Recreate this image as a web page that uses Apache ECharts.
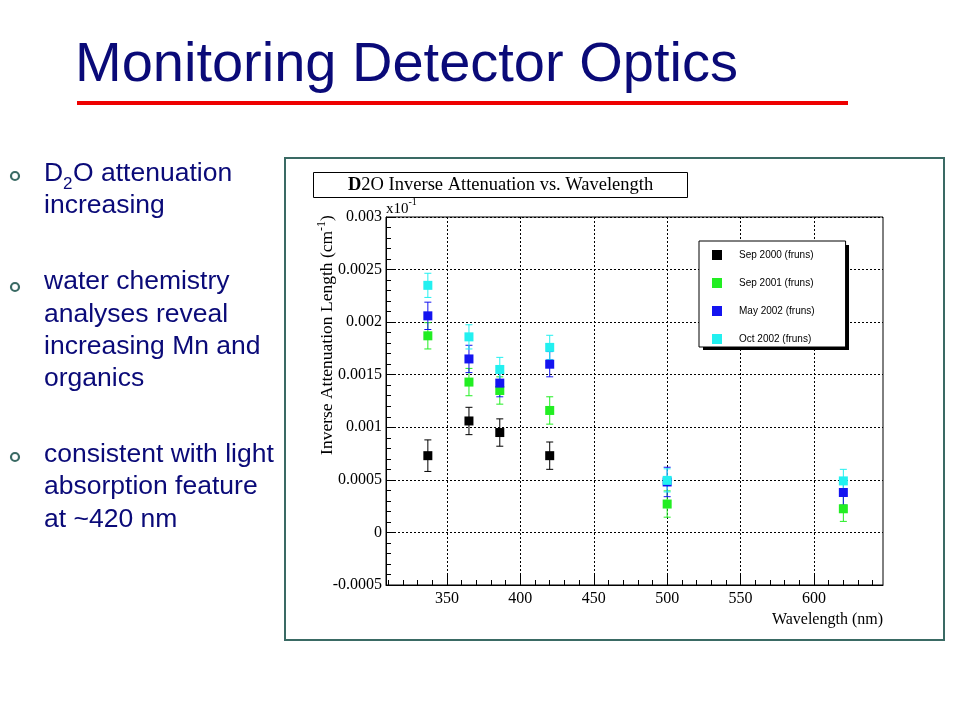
<!DOCTYPE html>
<html><head><meta charset="utf-8">
<script src="https://cdn.jsdelivr.net/npm/echarts@6/dist/echarts.min.js"></script>
<style>html,body{margin:0;padding:0;background:#fff}#c{width:960px;height:720px}</style>
</head><body><div id="c"></div>
<script>
// ---- data ----
const wavelengths = [337, 365, 386, 420, 500, 620];
const seriesNames = ['Sep 2000 (fruns)', 'Sep 2001 (fruns)', 'May 2002 (fruns)', 'Oct 2002 (fruns)'];
const sep2000 = [0.00073, 0.00106, 0.00095, 0.00073, null, null];
const sep2000Err = [0.00015, 0.00013, 0.00013, 0.00013, null, null];
const sep2001 = [0.00187, 0.00143, 0.00135, 0.00116, 0.00027, 0.000225];
const sep2001Err = [0.000125, 0.00013, 0.00013, 0.00013, 0.000125, 0.00012];
const may2002 = [0.00206, 0.00165, 0.00142, 0.0016, 0.00048, 0.00038];
const may2002Err = [0.00013, 0.00013, 0.00013, 0.00012, 0.00014, 0.00012];
const oct2002 = [0.00235, 0.00186, 0.00155, 0.00176, 0.000495, 0.00049];
const oct2002Err = [0.000115, 0.000115, 0.000115, 0.000115, 0.00011, 0.00011];
const xMajorTicks = [350, 400, 450, 500, 550, 600];
const xMinorTicks = [310, 320, 330, 340, 350, 360, 370, 380, 390, 400, 410, 420, 430, 440, 450, 460, 470, 480, 490, 500, 510, 520, 530, 540, 550, 560, 570, 580, 590, 600, 610, 620, 630, 640];
const yTickLabels = ['-0.0005', '0', '0.0005', '0.001', '0.0015', '0.002', '0.0025', '0.003'];

const bulletLines = [
  ['water chemistry', 'analyses reveal', 'increasing Mn and', 'organics'],
  ['consistent with light', 'absorption feature', 'at ~420 nm']
];

const values = [sep2000, sep2001, may2002, oct2002];
const errors = [sep2000Err, sep2001Err, may2002Err, oct2002Err];
const colors = ['#000000', '#22ee22', '#1414f0', '#22f0f0'];

const chart = echarts.init(document.getElementById('c'));

function makeErr(color) {
  return function (params, api) {
    const x = api.value(0), y = api.value(1), e = api.value(2);
    const t = api.coord([x, y + e]);
    const b = api.coord([x, y - e]);
    const hw = 3.5;
    const st = { stroke: color, lineWidth: 1 };
    return {
      type: 'group', children: [
        { type: 'line', shape: { x1: t[0], y1: t[1], x2: b[0], y2: b[1] }, style: st },
        { type: 'line', shape: { x1: t[0] - hw, y1: t[1], x2: t[0] + hw, y2: t[1] }, style: st },
        { type: 'line', shape: { x1: b[0] - hw, y1: b[1], x2: b[0] + hw, y2: b[1] }, style: st }
      ]
    };
  };
}

const series = [];
values.forEach((vals, i) => {
  const pts = [], errs = [];
  vals.forEach((v, j) => {
    if (v !== null) {
      pts.push([wavelengths[j], v]);
      errs.push([wavelengths[j], v, errors[i][j]]);
    }
  });
  series.push({
    type: 'custom', renderItem: makeErr(colors[i]), data: errs, silent: true, z: 3
  });
  series.push({
    type: 'scatter', name: seriesNames[i], data: pts, symbol: 'rect', symbolSize: 9,
    itemStyle: { color: colors[i], opacity: 1 }, z: 3
  });
});

const navy = '#0a0a78';
const teal = '#3a6a64';
const sans = 'Liberation Sans, Arial, sans-serif';
const serif = 'Liberation Serif, Times New Roman, serif';

const graphics = [];
// slide title
graphics.push({ type: 'text', left: 75, top: 38, style: { text: 'Monitoring Detector Optics', fontSize: 56, fontFamily: sans, fill: navy } });
graphics.push({ type: 'rect', shape: { x: 77, y: 101, width: 771, height: 4 }, style: { fill: '#ee0000' } });
// frame
graphics.push({ type: 'rect', shape: { x: 285, y: 158, width: 659, height: 482 }, style: { fill: 'none', stroke: teal, lineWidth: 2 }, z: 0 });
// bullets
[176, 287, 457].forEach(cy => {
  graphics.push({ type: 'circle', shape: { cx: 15, cy: cy, r: 4 }, style: { fill: 'none', stroke: teal, lineWidth: 2.2 } });
});
function bt(txt, x, y, size) {
  graphics.push({ type: 'text', x: x, y: y, style: { text: txt, fontSize: size || 26.5, fontFamily: sans, fill: navy, textVerticalAlign: 'middle', textAlign: 'left' } });
}
bt('D', 44, 174);
bt('2', 63, 184, 17);
bt('O attenuation', 73, 174);
bt('increasing', 44, 206);
const paraY = [[282, 315, 347, 379], [455, 487, 520]];
bulletLines.forEach((lines, p) => lines.forEach((ln, k) => bt(ln, 44, paraY[p][k])));

// y axis name
graphics.push({
  type: 'text', x: 326, y: 335, rotation: Math.PI / 2,
  style: {
    text: '{n|Inverse Attenuation Length (cm}{s|-1}{n|)}',
    textAlign: 'center', textVerticalAlign: 'middle',
    rich: {
      n: { fontSize: 17.5, fontFamily: serif, fill: '#000', color: '#000', lineHeight: 20, verticalAlign: 'bottom' },
      s: { fontSize: 12, fontFamily: serif, fill: '#000', color: '#000', lineHeight: 20, verticalAlign: 'top' }
    }
  }
});
// exponent label
graphics.push({
  type: 'text', x: 386, y: 217,
  style: {
    text: '{n|x10}{s|-1}', textAlign: 'left', textVerticalAlign: 'bottom',
    rich: {
      n: { fontSize: 15, fontFamily: serif, fill: '#000', color: '#000', lineHeight: 20, verticalAlign: 'bottom' },
      s: { fontSize: 10, fontFamily: serif, fill: '#000', color: '#000', lineHeight: 20, verticalAlign: 'top' }
    }
  }
});
// x axis name
graphics.push({ type: 'text', x: 883, y: 620, style: { text: 'Wavelength (nm)', fontSize: 16, fontFamily: serif, fill: '#000', textAlign: 'right', textVerticalAlign: 'middle' } });
// legend shadow
graphics.push({ type: 'rect', shape: { x: 703, y: 245, width: 146, height: 105 }, style: { fill: '#000' }, z: 3 });

const option = {
  animation: false,
  backgroundColor: '#fff',
  title: {
    text: '{b|D}2O Inverse Attenuation vs. Wavelength',
    left: 313, top: 173, padding: [3, 35, 3, 35],
    borderColor: '#000', borderWidth: 1, backgroundColor: '#fff',
    textStyle: {
      fontFamily: serif, fontSize: 18.5, fontWeight: 'normal', color: '#000', lineHeight: 18,
      rich: { b: { fontFamily: serif, fontSize: 18.5, fontWeight: 'bold', color: '#000', lineHeight: 18 } }
    }
  },
  legend: {
    orient: 'vertical', left: 699, top: 241, data: seriesNames,
    icon: 'rect', itemWidth: 10, itemHeight: 10, itemGap: 16,
    backgroundColor: '#fff', borderColor: '#000', borderWidth: 1,
    padding: [8, 31, 2, 13], z: 5,
    textStyle: { fontFamily: sans, fontSize: 10, color: '#000', lineHeight: 12, padding: [0, 0, 0, 12] }
  },
  grid: {
    left: 386, top: 217, width: 497, height: 368,
    show: true, borderColor: '#000', borderWidth: 1, backgroundColor: 'transparent'
  },
  xAxis: [{
    type: 'value', min: 308.5, max: 647, position: 'bottom',
    axisLine: { show: true, onZero: false, lineStyle: { color: '#000', width: 1 } },
    axisTick: { show: true, inside: true, length: 10, customValues: xMajorTicks, lineStyle: { color: '#000' } },
    axisLabel: { customValues: xMajorTicks, fontFamily: serif, fontSize: 16, color: '#000', margin: 6 },
    splitLine: { show: true, lineStyle: { color: '#000', type: [2, 2], width: 1 } }
  }, {
    type: 'value', min: 308.5, max: 647, position: 'bottom', offset: 0,
    axisLine: { show: false, onZero: false },
    axisTick: { show: true, inside: true, length: 5, customValues: xMinorTicks, lineStyle: { color: '#000' } },
    axisLabel: { show: false },
    splitLine: { show: false }
  }],
  yAxis: {
    type: 'value', min: -0.0005, max: 0.003, interval: 0.0005,
    axisLine: { show: true, onZero: false, lineStyle: { color: '#000', width: 1 } },
    axisTick: { show: true, inside: true, length: 10, lineStyle: { color: '#000' } },
    minorTick: { show: true, splitNumber: 5, length: 5, lineStyle: { color: '#000' } },
    axisLabel: {
      fontFamily: serif, fontSize: 16, color: '#000', margin: 4,
      formatter: v => yTickLabels[Math.round((v + 0.0005) / 0.0005)]
    },
    splitLine: { show: true, lineStyle: { color: '#000', type: [2, 2], width: 1 } }
  },
  graphic: graphics,
  series: series
};
chart.setOption(option);
</script>
</body></html>
